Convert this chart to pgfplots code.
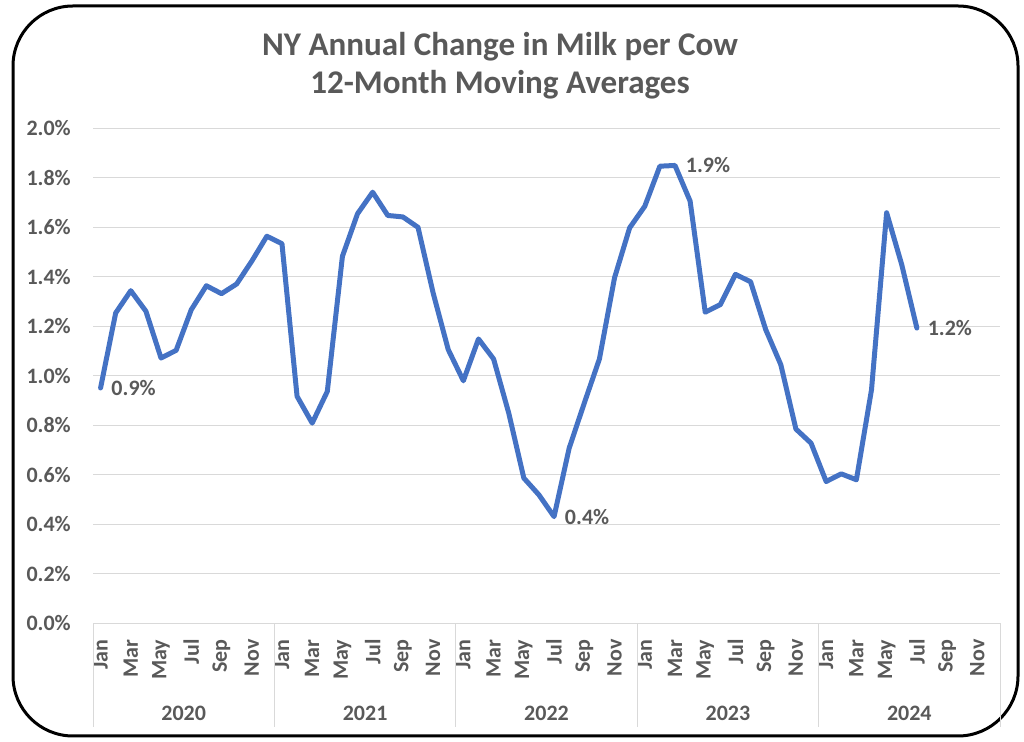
\documentclass[border=0pt]{standalone}
\usepackage{fontspec}
\setmainfont{Carlito}
\usepackage{pgfplots}
\pgfplotsset{compat=1.18}
\usepackage{pgfplotstable}
\definecolor{txt}{HTML}{595959}
\definecolor{grd}{HTML}{D9D9D9}
\definecolor{ln}{HTML}{4472C4}
\newcommand\tlf{\fontsize{16.5}{20}\selectfont\bfseries\color{txt}}
\pgfplotstableread{
x y
0 0.951
1 1.254
2 1.344
3 1.261
4 1.072
5 1.103
6 1.267
7 1.364
8 1.332
9 1.371
10 1.463
11 1.564
12 1.534
13 0.917
14 0.809
15 0.937
16 1.483
17 1.655
18 1.742
19 1.648
20 1.642
21 1.600
22 1.335
23 1.106
24 0.980
25 1.149
26 1.068
27 0.850
28 0.587
29 0.519
30 0.431
31 0.708
32 0.890
33 1.068
34 1.396
35 1.598
36 1.685
37 1.847
38 1.850
39 1.706
40 1.257
41 1.288
42 1.410
43 1.380
44 1.187
45 1.045
46 0.785
47 0.728
48 0.573
49 0.604
50 0.580
51 0.944
52 1.659
53 1.449
54 1.193
}\datatable
\begin{document}
\begin{tikzpicture}[x=1pt,y=1pt]
\path[use as bounding box] (0,0) rectangle (768,556.5);
\draw[line width=2.25pt, rounded corners=45pt] (9.75,4.5) rectangle (763.5,552);
\node[align=center, text=txt, font=\fontsize{24.8}{28.5}\selectfont\bfseries] at (375,507)
  {NY Annual Change in Milk per Cow\\12-Month Moving Averages};
\begin{axis}[
  at={(69.75pt,89.0pt)}, anchor=south west,
  scale only axis, width=680.25pt, height=371.25pt,
  xmin=-0.5, xmax=59.5, ymin=0, ymax=2.0,
  ytick={0,0.2,0.4,0.6,0.8,1.0,1.2,1.4,1.6,1.8,2.0},
  yticklabels={{\tlf 0.0\%},{\tlf 0.2\%},{\tlf 0.4\%},{\tlf 0.6\%},{\tlf 0.8\%},{\tlf 1.0\%},{\tlf 1.2\%},{\tlf 1.4\%},{\tlf 1.6\%},{\tlf 1.8\%},{\tlf 2.0\%}},
  ymajorgrids, grid style={grd, line width=0.75pt},
  axis line style={draw=none},
  major tick length=0pt,
  yticklabel style={anchor=east, inner sep=0pt, xshift=-16.5pt},
  xtick={0,2,...,58},
  xticklabels={{\tlf Jan},{\tlf Mar},{\tlf May},{\tlf Jul},{\tlf Sep},{\tlf Nov},
    {\tlf Jan},{\tlf Mar},{\tlf May},{\tlf Jul},{\tlf Sep},{\tlf Nov},
    {\tlf Jan},{\tlf Mar},{\tlf May},{\tlf Jul},{\tlf Sep},{\tlf Nov},
    {\tlf Jan},{\tlf Mar},{\tlf May},{\tlf Jul},{\tlf Sep},{\tlf Nov},
    {\tlf Jan},{\tlf Mar},{\tlf May},{\tlf Jul},{\tlf Sep},{\tlf Nov}},
  xticklabel style={yshift=-12pt, rotate=90, anchor=east, inner sep=0pt},
  clip=false,
]
\addplot[ln, line width=3.75pt, line join=round, line cap=round] table[x=x,y=y] {\datatable};
\addplot[draw=none, nodes near coords, point meta=explicit symbolic,
  nodes near coords style={anchor=west, xshift=8pt, inner sep=0pt, text=txt, font=\fontsize{16.5}{20}\selectfont\bfseries}]
  coordinates {(0,0.951) [0.9\%] (30,0.431) [0.4\%] (38,1.850) [1.9\%] (54,1.193) [1.2\%]};
\pgfplotsinvokeforeach{-0.5,11.5,23.5,35.5,47.5,59.5}{
  \draw[grd, line width=0.75pt] (axis cs:#1,0) -- ([yshift=-78pt]axis cs:#1,0);
}
\end{axis}
\begin{axis}[
  at={(69.75pt,89.0pt)}, anchor=south west,
  scale only axis, width=680.25pt, height=371.25pt,
  xmin=-0.5, xmax=59.5, ymin=0, ymax=2.0,
  axis line style={draw=none}, major tick length=0pt,
  ytick=\empty,
  xtick={5.5,17.5,29.5,41.5,53.5},
  xticklabels={{\tlf 2020},{\tlf 2021},{\tlf 2022},{\tlf 2023},{\tlf 2024}},
  xticklabel style={anchor=center, inner sep=0pt, yshift=-67.5pt},
]
\end{axis}
\end{tikzpicture}
\end{document}
